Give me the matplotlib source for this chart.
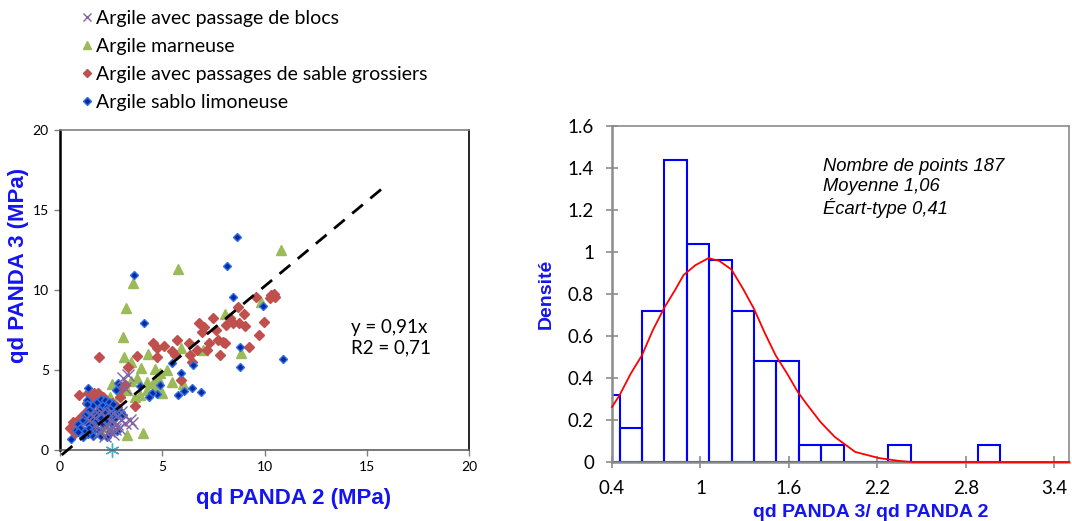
import numpy as np
import matplotlib
matplotlib.use("Agg")
import matplotlib.pyplot as plt

# --- scatter data (qd PANDA 2, qd PANDA 3) ---
blocs_x = [3.1, 3.3, 3.2, 2.0, 2.2, 2.5, 2.6, 2.8, 3.0, 3.2, 3.4, 3.5, 2.4, 2.2, 2.6, 1.8,
           1.9, 2.3, 2.7, 1.6, 3.0, 2.9, 1.4, 2.1]
blocs_y = [4.5, 4.7, 3.9, 2.4, 2.1, 1.8, 2.3, 1.6, 1.9, 1.7, 1.9, 1.7, 1.2, 0.9, 1.0, 1.5,
           1.1, 1.5, 1.3, 2.1, 2.4, 1.4, 1.9, 1.3]

marn_x = [10.8, 5.75, 3.58, 3.22, 3.09, 3.14, 3.47, 4.28, 3.94, 4.64, 4.89, 4.8, 5.0, 4.23,
          3.75, 3.47, 3.26, 2.52, 3.66, 3.9, 4.53, 5.49, 6.03, 5.9, 7.0, 8.06, 9.83, 8.84,
          3.26, 4.07, 2.25, 2.44, 2.12, 2.69, 2.93, 2.44, 4.72, 4.23, 5.21, 2.5, 2.0]
marn_y = [12.5, 11.3, 10.46, 8.9, 7.04, 5.83, 5.52, 6.0, 5.1, 5.04, 4.79, 4.48, 3.54, 4.27,
          4.48, 4.31, 3.75, 4.13, 3.33, 3.44, 4.2, 4.27, 4.13, 6.35, 6.25, 8.5, 9.27, 6.08,
          0.94, 1.04, 1.46, 2.6, 2.5, 2.92, 3.54, 3.33, 3.96, 3.75, 5.0, 1.3, 1.1]

sable_x = [1.9, 0.93, 3.78, 3.3, 3.66, 2.96, 4.53, 4.72, 4.72, 5.1, 5.7, 5.46, 5.62, 5.94,
           6.32, 6.38, 6.43, 6.68, 6.8, 6.92, 7.04, 7.17, 7.3, 7.5, 7.62, 7.74, 7.82, 7.98,
           8.06, 8.14, 8.3, 8.47, 8.71, 8.75, 9.0, 9.07, 9.23, 9.58, 9.74, 9.98, 10.26, 10.34,
           10.46, 10.5,
           0.49, 0.65, 0.81, 0.98, 1.22, 1.34, 1.55, 1.68, 1.79, 1.47, 1.95, 2.12, 2.28, 2.52,
           2.77, 2.93, 1.06, 0.73, 1.71, 1.95, 1.38, 1.87, 3.18]
sable_y = [5.8, 3.42, 5.87, 5.2, 2.75, 3.8, 6.67, 6.35, 5.83, 6.52, 6.87, 6.2, 5.94, 4.38,
           6.67, 5.94, 5.52, 6.25, 7.92, 7.4, 7.71, 6.25, 6.67, 8.23, 7.5, 6.87, 5.94, 6.77,
           6.67, 7.81, 8.23, 7.96, 8.96, 7.92, 8.5, 7.75, 6.42, 9.54, 7.19, 7.98, 9.48, 9.69,
           9.75, 9.58,
           1.35, 1.77, 1.56, 1.98, 2.29, 2.92, 3.33, 3.58, 3.12, 2.5, 2.71, 3.33, 2.4, 2.92,
           2.71, 3.33, 1.25, 1.04, 1.67, 1.98, 3.54, 3.54, 4.06]

limon_x = [8.65, 8.16, 3.62, 4.1, 8.44, 9.93, 8.79, 8.79, 10.88, 6.51, 5.46, 5.91, 6.43, 6.89,
           6.07, 5.75, 4.89, 4.76, 4.48, 4.35, 3.9, 2.74, 2.85, 0.54, 0.77, 1.38, 1.34,
           0.9, 1.0, 1.1, 1.2, 1.2, 1.3, 1.35, 1.4, 1.4, 1.5, 1.5, 1.6, 1.6, 1.7, 1.7, 1.8,
           1.8, 1.9, 1.9, 2.0, 2.0, 2.1, 2.1, 2.2, 2.2, 2.3, 2.3, 2.4, 2.4, 2.5, 2.5, 2.6,
           2.6, 2.7, 2.8, 2.9, 3.0, 3.1, 2.0, 2.3, 1.1, 1.6, 2.8, 1.3, 0.9, 2.45]
limon_y = [13.3, 11.52, 10.96, 7.96, 9.56, 9.02, 6.42, 5.21, 5.67, 5.31, 5.42, 4.83, 3.85, 3.6,
           3.69, 3.44, 4.06, 3.5, 3.58, 3.29, 4.0, 3.75, 4.21, 0.67, 1.25, 3.85, 3.12,
           1.6, 1.4, 1.9, 1.2, 2.2, 1.7, 1.0, 2.5, 1.4, 2.0, 1.1, 2.8, 1.6, 2.2, 1.3, 3.0,
           1.9, 2.5, 1.2, 3.2, 2.0, 1.6, 2.8, 2.3, 3.1, 1.9, 2.7, 3.0, 2.2, 2.6, 1.7, 2.9,
           2.3, 2.0, 2.5, 2.3, 2.4, 2.2, 0.9, 0.8, 0.8, 0.9, 1.2, 2.9, 1.1, 1.1]

other_x = [2.55]
other_y = [0.0]

fit_x = [0.08, 15.96]
fit_y = [-0.31, 16.56]

# --- histogram of qd PANDA 3 / qd PANDA 2 ---
bin_edges = [0.299, 0.451, 0.603, 0.755, 0.907, 1.059, 1.211, 1.363, 1.515, 1.667, 1.819,
             1.971, 2.123, 2.275, 2.427, 2.579, 2.731, 2.883, 3.035]
densite = [0.32, 0.16, 0.72, 1.44, 1.04, 0.96, 0.72, 0.48, 0.48, 0.08, 0.08,
           0, 0, 0.08, 0, 0, 0, 0.08]

curve_x = [0.4, 0.451, 0.527, 0.603, 0.677, 0.758, 0.827, 0.885, 0.965, 1.055, 1.127, 1.21,
           1.288, 1.362, 1.438, 1.51, 1.588, 1.66, 1.727, 1.815, 1.912, 2.05, 2.21, 2.35,
           2.44, 3.5]
curve_y = [0.262, 0.318, 0.421, 0.508, 0.628, 0.739, 0.818, 0.89, 0.937, 0.971, 0.958, 0.917,
           0.826, 0.731, 0.612, 0.508, 0.421, 0.334, 0.27, 0.19, 0.119, 0.048, 0.019, 0.005,
           0.0, 0.0]

tick_font = "Lato"
label_font = "Liberation Sans"
blue_lbl = "#1414F0"

fig = plt.figure(figsize=(10.72, 5.21), dpi=100)

# ---------------- left: scatter ----------------
ax1 = fig.add_axes([0.056, 0.1363, 0.3815, 0.6142])
h1, = ax1.plot(blocs_x, blocs_y, ls="none", marker="x", ms=8, mew=1.0, color="#8064A2",
               label="Argile avec passage de blocs", zorder=3)
h2, = ax1.plot(marn_x, marn_y, ls="none", marker="^", ms=7, color="#9BBB59",
               label="Argile marneuse")
h3, = ax1.plot(sable_x, sable_y, ls="none", marker="D", ms=5.2, color="#C0504D",
               label="Argile avec passages de sable grossiers")
h4, = ax1.plot(limon_x, limon_y, ls="none", marker="D", ms=4.5, mfc="#0a2a9a", mec="#2f6fe8",
               mew=1.0, label="Argile sablo limoneuse")
ax1.plot(other_x, other_y, ls="none", marker=(6, 2, 0), ms=10, mew=1.0, color="#4BACC6",
         clip_on=False)
ax1.plot(fit_x, fit_y, ls=(0, (5, 3.5)), color="black", lw=2, clip_on=False, zorder=4)

ax1.set_xlim(0, 20)
ax1.set_ylim(0, 20)
ax1.set_xticks([0, 5, 10, 15, 20])
ax1.set_yticks([0, 5, 10, 15, 20])
ax1.tick_params(direction="out", length=4, width=1, color="#808080", labelsize=10, pad=4)
for lab in ax1.get_xticklabels() + ax1.get_yticklabels():
    lab.set_fontfamily(tick_font)
for s in ax1.spines.values():
    s.set_color("black")
    s.set_linewidth(1.2)
ax1.spines["left"].set_linewidth(1.8)
ax1.spines["bottom"].set_color("#606060")
ax1.spines["top"].set_color("#808080")

ax1.set_xlabel("qd PANDA 2 (MPa)", fontsize=16, fontweight="bold", color=blue_lbl,
               fontfamily=label_font)
ax1.xaxis.set_label_coords(0.572, -0.118)
ax1.set_ylabel("qd PANDA 3 (MPa)", fontsize=16, fontweight="bold", color=blue_lbl,
               fontfamily=label_font)
ax1.yaxis.set_label_coords(-0.076, 0.578)

ax1.text(0.711, 0.41, "y = 0,91x\nR2 = 0,71", transform=ax1.transAxes, fontsize=13.5,
         fontfamily=tick_font, va="top", ha="left", linespacing=1.25)

fig.legend(handles=[h1, h2, h3, h4], loc="upper left", bbox_to_anchor=(0.077, 0.981),
           frameon=False, prop={"family": tick_font, "size": 14}, handlelength=0.5,
           handletextpad=0.2, labelspacing=0.56, borderaxespad=0, borderpad=0,
           markerscale=0.8)

# ---------------- right: histogram ----------------
ax2 = fig.add_axes([0.5709, 0.1132, 0.4263, 0.6449])
widths = np.diff(bin_edges)
ax2.bar(bin_edges[:-1], densite, width=widths, align="edge", fill=False,
        edgecolor="#0000FF", linewidth=1.5, zorder=2)
ax2.plot(curve_x, curve_y, color="#FF0000", lw=1.3, zorder=3, clip_on=False)

ax2.set_xlim(0.4, 3.5)
ax2.set_ylim(0, 1.6)
ax2.set_xticks([0.4, 1, 1.6, 2.2, 2.8, 3.4])
ax2.set_xticklabels(["0.4", "1", "1.6", "2.2", "2.8", "3.4"])
ax2.set_yticks([0, 0.2, 0.4, 0.6, 0.8, 1, 1.2, 1.4, 1.6])
ax2.set_yticklabels(["0", "0.2", "0.4", "0.6", "0.8", "1", "1.2", "1.4", "1.6"])
ax2.tick_params(direction="inout", length=8, width=1.2, color="#8c8c8c", labelsize=13.5,
                pad=9)
for lab in ax2.get_xticklabels() + ax2.get_yticklabels():
    lab.set_fontfamily(tick_font)
for s in ax2.spines.values():
    s.set_color("#8c8c8c")
    s.set_linewidth(1.2)
ax2.spines["left"].set_linewidth(1.8)
ax2.spines["bottom"].set_linewidth(1.8)

ax2.set_xlabel("qd PANDA 3/ qd PANDA 2", fontsize=14, fontweight="bold", color=blue_lbl,
               fontfamily=label_font)
ax2.xaxis.set_label_coords(0.565, -0.125)
ax2.set_ylabel("Densité", fontsize=14, fontweight="bold", color=blue_lbl,
               fontfamily=label_font)
ax2.yaxis.set_label_coords(-0.125, 0.5)

ax2.text(0.462, 0.904, "Nombre de points 187\nMoyenne 1,06\nÉcart-type 0,41",
         transform=ax2.transAxes, fontsize=13.2, style="italic", fontfamily=label_font,
         va="top", ha="left", linespacing=1.2)

fig.savefig("out.png", dpi=100)
